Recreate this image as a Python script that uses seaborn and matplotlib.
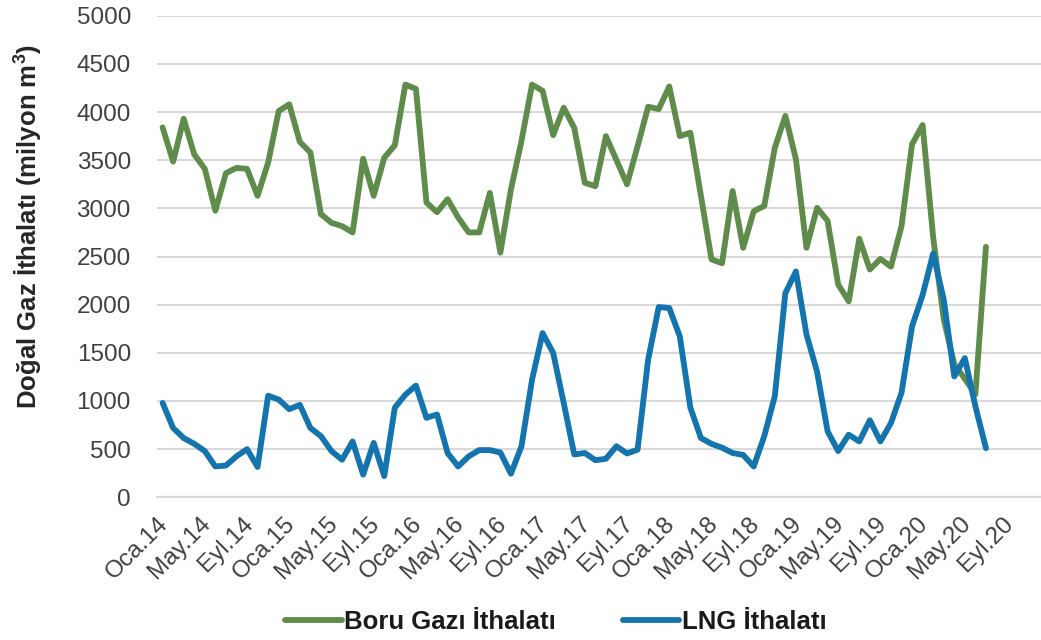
import matplotlib
matplotlib.use("Agg")
import matplotlib.pyplot as plt
import seaborn as sns
import pandas as pd
import numpy as np

# aylik ithalat, Oca.14 - Tem.20 (milyon m3)
boru_gazi = [3840, 3485, 3930, 3560, 3410, 2975, 3365, 3420, 3410, 3130, 3475, 4010,
             4080, 3690, 3580, 2940, 2850, 2815, 2750, 3515, 3130, 3525, 3655, 4285,
             4240, 3060, 2960, 3095, 2905, 2750, 2750, 3160, 2540, 3195, 3700, 4285,
             4220, 3760, 4045, 3835, 3265, 3230, 3750, 3500, 3250, 3645, 4055, 4030,
             4265, 3750, 3785, 3130, 2470, 2430, 3180, 2590, 2970, 3025, 3630, 3960,
             3510, 2590, 3005, 2870, 2210, 2035, 2685, 2365, 2475, 2395, 2815, 3665,
             3865, 2700, 1850, 1380, 1230, 1070, 2600]
lng = [980, 720, 615, 555, 480, 320, 330, 425, 500, 315, 1055, 1015,
       915, 960, 720, 635, 480, 390, 580, 235, 565, 220, 930, 1065,
       1160, 825, 860, 460, 320, 425, 490, 490, 465, 245, 530, 1220,
       1705, 1500, 980, 445, 460, 385, 400, 530, 455, 495, 1430, 1975,
       1965, 1670, 930, 615, 555, 515, 460, 440, 320, 635, 1050, 2120,
       2345, 1690, 1305, 685, 480, 650, 580, 800, 580, 770, 1085, 1775,
       2100, 2530, 2055, 1255, 1445, 945, 510]
tick_labels = ["Oca.14", "May.14", "Eyl.14", "Oca.15", "May.15", "Eyl.15",
               "Oca.16", "May.16", "Eyl.16", "Oca.17", "May.17", "Eyl.17",
               "Oca.18", "May.18", "Eyl.18", "Oca.19", "May.19", "Eyl.19",
               "Oca.20", "May.20", "Eyl.20"]
series_names = ["Boru Gazı İthalatı", "LNG İthalatı"]
n_months = 84  # eksen Ara.20'ye kadar

df = pd.DataFrame({
    "ay": list(range(len(boru_gazi))) * 2,
    "deger": boru_gazi + lng,
    "seri": [series_names[0]] * len(boru_gazi) + [series_names[1]] * len(lng),
})

sns.set_style("white")
plt.rcParams["font.family"] = ["Liberation Sans", "DejaVu Sans"]
plt.rcParams["mathtext.fontset"] = "custom"
plt.rcParams["mathtext.rm"] = "Liberation Sans"
plt.rcParams["mathtext.bf"] = "Liberation Sans:bold"

fig = plt.figure(figsize=(10.41, 6.40), dpi=100)
W, H = 1041, 640
ax = fig.add_axes([157.3 / W, 142.7 / H, 886.7 / W, 481.6 / H])

grid_col = "#d9d9d9"
sns.lineplot(data=df, x="ay", y="deger", hue="seri", ax=ax,
             palette={series_names[0]: "#5f8c4a", series_names[1]: "#1474ad"},
             linewidth=4.2, legend=True)
for line in ax.lines:
    line.set_solid_joinstyle("round")
    line.set_solid_capstyle("round")

ax.set_xlim(-0.5, n_months - 0.5)
ax.set_ylim(0, 5000)
ax.set_yticks(np.arange(0, 5001, 500))
ax.set_xticks(np.arange(-0.5, 80, 4))
ax.set_xticklabels(tick_labels, rotation=45, ha="right", va="top",
                   rotation_mode="anchor")
ax.tick_params(axis="x", length=7, width=1.5, color=grid_col, labelsize=17.5,
               labelcolor="#404040", pad=4)
ax.tick_params(axis="y", length=0, labelsize=17.5, labelcolor="#404040", pad=19)
ax.grid(axis="y", color=grid_col, linewidth=1.5)
ax.set_axisbelow(True)
for side in ["top", "right", "left"]:
    ax.spines[side].set_visible(False)
ax.spines["bottom"].set_color(grid_col)
ax.spines["bottom"].set_linewidth(1.5)
ax.set_xlabel("")
ax.set_ylabel("")

fig.text(28 / W, 1 - 226 / H, r"Doğal Gaz İthalatı (milyon m$^\mathbf{3}$)",
         rotation=90, ha="center", va="center", fontsize=18.5,
         fontweight="bold", color="#262626")

handles, labels = ax.get_legend_handles_labels()
ax.get_legend().remove()
fig.legend(handles, labels, loc="center", bbox_to_anchor=(556 / W, 18 / H),
           ncol=2, frameon=False, handlelength=2.2, handletextpad=0.1,
           columnspacing=2.6, prop={"weight": "bold", "size": 18.5})
for txt in fig.legends[0].get_texts():
    txt.set_color("#1a1a1a")

fig.savefig("out.png", dpi=100)
